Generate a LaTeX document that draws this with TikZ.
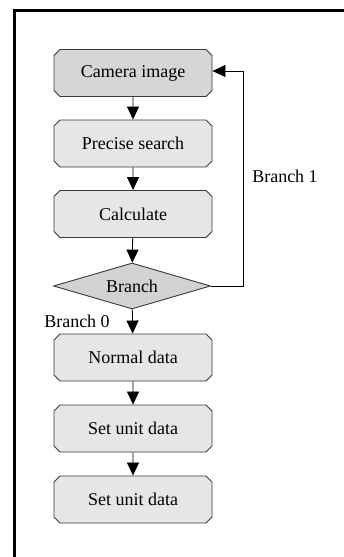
\documentclass[tikz,border=0pt]{standalone}
\usepackage{fontspec}
\setmainfont{Liberation Serif}
\usetikzlibrary{arrows.meta,shapes.misc,shapes.geometric}
\definecolor{boxline}{HTML}{3A3A3A}
\definecolor{camfill}{HTML}{D6D6D6}
\definecolor{boxfill}{HTML}{E6E6E6}
\definecolor{dmdfill}{HTML}{D2D2D2}
\tikzset{
  flowbox/.style={chamfered rectangle, chamfered rectangle xsep=3pt, chamfered rectangle ysep=3pt,
    draw=boxline, line width=0.9pt, fill=boxfill, minimum width=158pt, minimum height=47pt,
    inner sep=0pt, font=\fontsize{18}{20}\selectfont},
  dmd/.style={diamond, aspect=3.4, draw=boxline, line width=0.9pt, fill=dmdfill,
    minimum width=157pt, minimum height=46pt, inner sep=0pt, font=\fontsize{18}{20}\selectfont},
  lbl/.style={font=\fontsize{18}{20}\selectfont, inner sep=0pt},
  flow/.style={draw=black, line width=0.8pt, -{Triangle[width=12pt,length=13pt]}},
}
\begin{document}
\begin{tikzpicture}[x=1pt,y=-1pt]
\useasboundingbox (0,0) rectangle (344,557);
\fill[white] (0,0) rectangle (344,557);
% frame
\draw[line width=3pt] (14.5,557) -- (14.5,10.5) -- (344,10.5);
\node[flowbox, fill=camfill] (cam) at (133,73) {Camera image};
\node[flowbox] (ps) at (133,143.5) {Precise search};
\node[flowbox] (calc) at (133,214) {Calculate};
\node[dmd] (br) at (132,286) {Branch};
\node[flowbox] (nd) at (133,357.5) {Normal data};
\node[flowbox] (su1) at (133,428.5) {Set unit data};
\node[flowbox] (su2) at (133,499.5) {Set unit data};
\coordinate (c1) at (243,286);
\coordinate (c2) at (243,71);
\draw[flow] (cam) -- (ps);
\draw[flow] (ps) -- (calc);
\draw[flow] (calc) -- (br);
\draw[flow] (br) -- (nd);
\draw[flow] (nd) -- (su1);
\draw[flow] (su1) -- (su2);
\draw[flow] (br.east) -- (c1) -- (c2) -- (cam.east |- c2);
\node[lbl, anchor=base] (b1) at (285,182) {Branch 1};
\node[lbl, anchor=base] (b0) at (77,327) {Branch 0};
\end{tikzpicture}
\end{document}
